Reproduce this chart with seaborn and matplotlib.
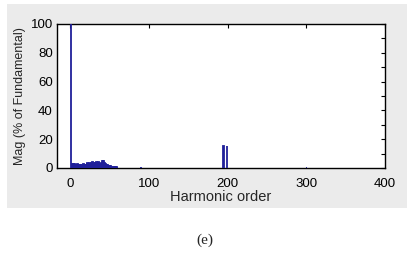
import matplotlib
matplotlib.use("Agg")
import matplotlib.pyplot as plt
import seaborn as sns
import numpy as np
from matplotlib.patches import Rectangle
from matplotlib.ticker import MultipleLocator

# espectro armonico (orden, magnitud en % de la fundamental)
orden_bajo = list(range(1, 61))
mag_bajo = [100.0, 2.8, 2.5, 2.9, 2.6, 2.4, 2.7, 2.2, 2.5, 2.0,
            2.3, 2.1, 1.9, 2.4, 2.2, 2.0, 2.6, 2.3, 2.1, 2.5,
            3.2, 3.8, 3.0, 3.6, 3.3, 2.9, 3.5, 4.1, 3.4, 3.0,
            3.7, 3.2, 4.0, 3.5, 3.1, 3.9, 3.3, 2.9, 3.6, 4.4,
            5.2, 4.6, 3.8, 3.2, 2.8, 2.4, 2.0, 1.8, 1.5, 1.3,
            1.2, 1.0, 0.9, 0.8, 0.8, 0.7, 0.6, 0.5, 0.4, 0.3]
orden_alto = [90, 195, 199, 300]
mag_alto = [0.4, 15.0, 15.0, 0.3]

ordenes = orden_bajo + orden_alto
magnitudes = mag_bajo + mag_alto

xticks = [0, 100, 200, 300, 400]
yticks = [0, 20, 40, 60, 80, 100]

sns.set_theme(style="white")
plt.rcParams["font.family"] = ["Liberation Sans", "DejaVu Sans"]

fig = plt.figure(figsize=(4.07, 2.56), dpi=100)
fig.patches.append(Rectangle((7 / 407, 1 - 208 / 256), 400 / 407, 204 / 256,
                             transform=fig.transFigure, facecolor="#ebebeb",
                             edgecolor="none", zorder=-5))
ax = fig.add_axes([57 / 407, 88 / 256, 328 / 407, 144 / 256])

azul = "#20209a"
sns.barplot(x=ordenes, y=magnitudes, native_scale=True, color=azul,
            edgecolor=azul, linewidth=1.3, width=0.8, ax=ax, zorder=3)

ax.set_xlim(-17, 400)
ax.set_ylim(0, 100)
ax.set_xticks(xticks)
ax.set_xticklabels([str(t) for t in xticks])
ax.set_yticks(yticks)
ax.yaxis.set_minor_locator(MultipleLocator(10))
ax.tick_params(axis="both", which="both", direction="in", length=3, width=0.8,
               top=True, right=True, labelsize=9.5, colors="black", pad=3)
ax.tick_params(axis="x", pad=7)
for s in ax.spines.values():
    s.set_color("black")
    s.set_linewidth(1.0)
ax.set_facecolor("white")
ax.set_xlabel("Harmonic order", fontsize=10.5, labelpad=0)
ax.set_ylabel("Mag (% of Fundamental)", fontsize=9, labelpad=3)

fig.text(205 / 407, 1 - 240 / 256, "(e)", ha="center", va="center",
         fontsize=11, family=["Liberation Serif", "DejaVu Serif"])

fig.savefig("out.png", dpi=100, facecolor="white")
